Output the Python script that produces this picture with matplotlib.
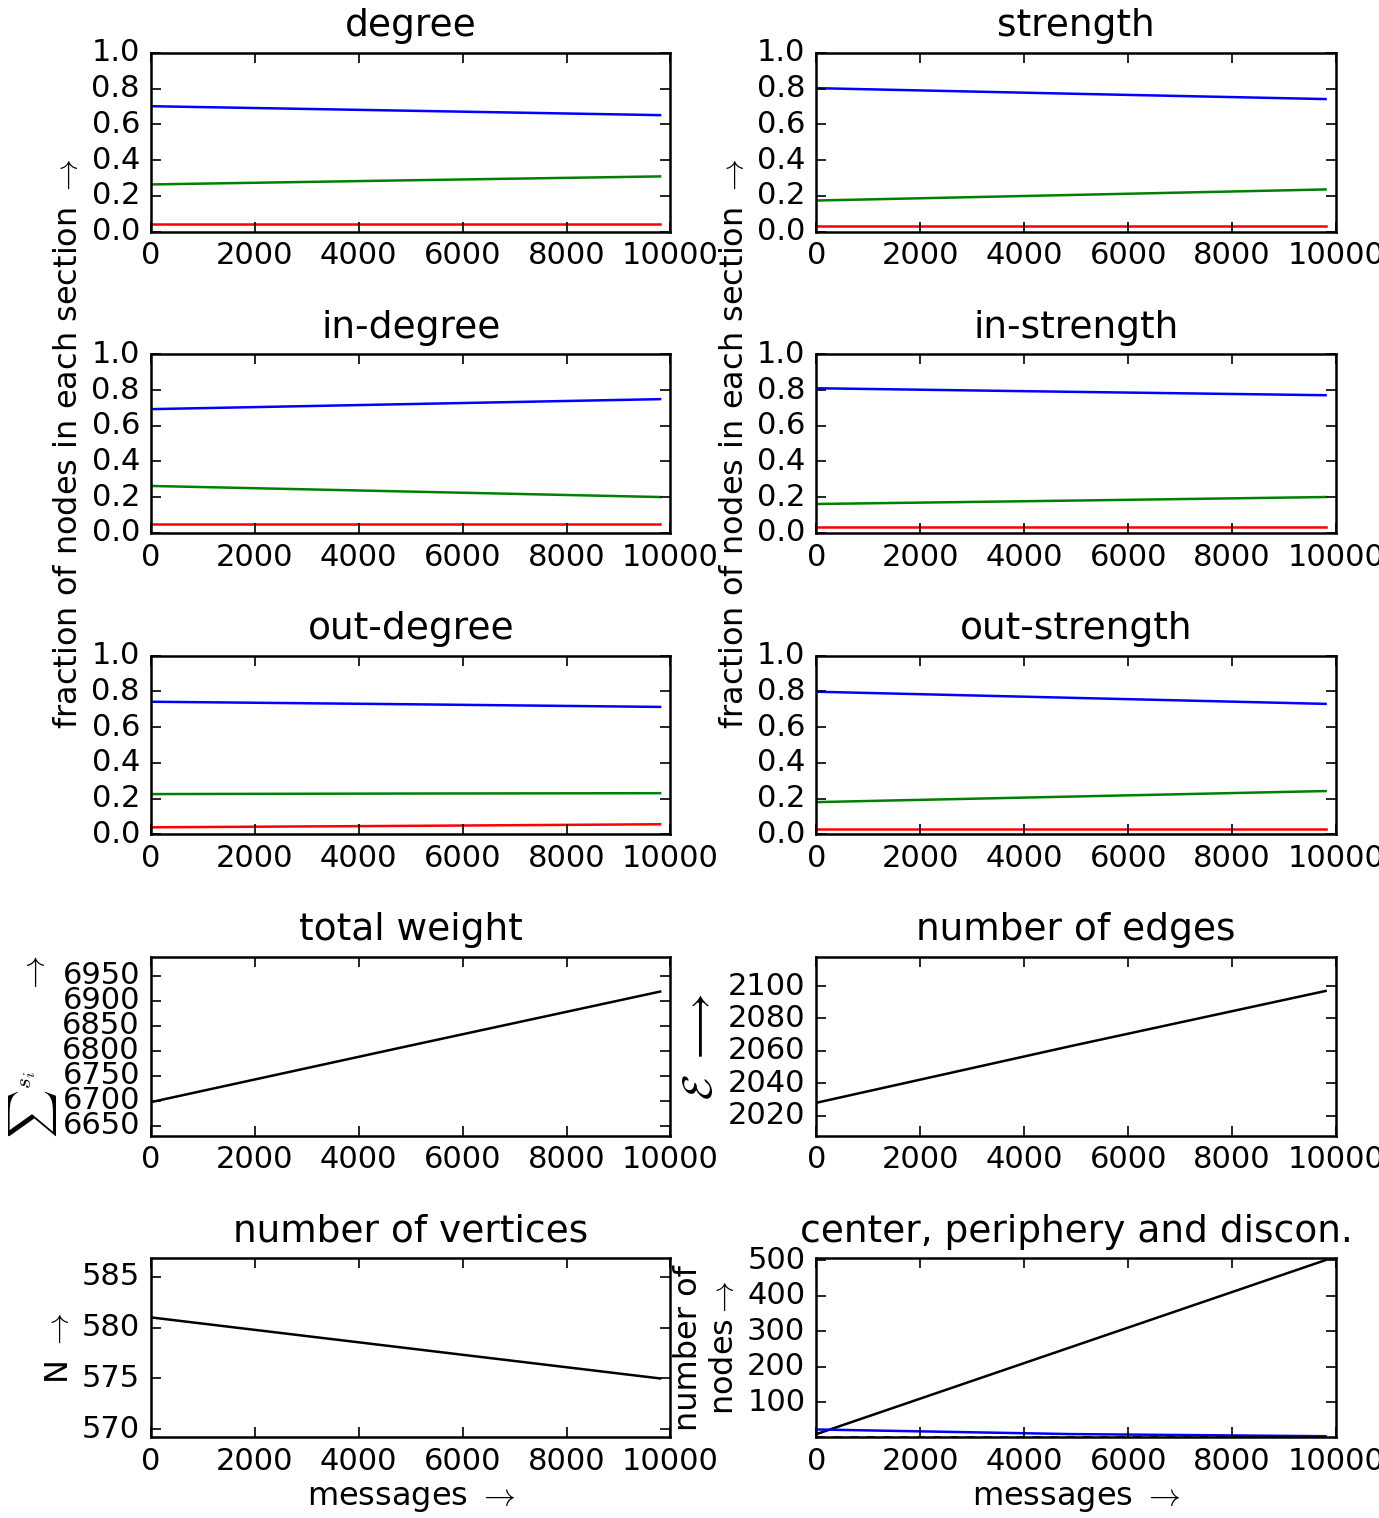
import numpy as np
import matplotlib
matplotlib.use('Agg')
from matplotlib import pyplot as plt

# messages axis (x) shared by every panel
messages = [0, 4900, 9800]

# fraction of nodes in center / periphery / disconnected, per measure
degree_blue = [0.702, 0.677, 0.652]
degree_green = [0.264, 0.287, 0.309]
degree_red = [0.045, 0.045, 0.045]

strength_blue = [0.803, 0.772, 0.742]
strength_green = [0.174, 0.205, 0.236]
strength_red = [0.034, 0.034, 0.034]

indegree_blue = [0.693, 0.721, 0.749]
indegree_green = [0.263, 0.232, 0.201]
indegree_red = [0.050, 0.050, 0.050]

instrength_blue = [0.810, 0.790, 0.771]
instrength_green = [0.162, 0.181, 0.201]
instrength_red = [0.034, 0.034, 0.034]

outdegree_blue = [0.742, 0.728, 0.713]
outdegree_green = [0.225, 0.228, 0.230]
outdegree_red = [0.039, 0.047, 0.056]

outstrength_blue = [0.798, 0.764, 0.730]
outstrength_green = [0.180, 0.211, 0.242]
outstrength_red = [0.028, 0.028, 0.028]

# totals
total_weight = [6697, 6808, 6918]
n_edges = [2028, 2063, 2097]
n_vertices = [581.0, 578.0, 575.0]

# center, periphery and disconnected counts
periphery = [10, 255, 500]
center = [23, 10, 4]
discon = [2, 2, 2]

plt.style.use('classic')
plt.rcParams['figure.facecolor'] = 'white'
plt.rcParams['savefig.facecolor'] = 'white'
plt.rcParams['font.size'] = 22
plt.rcParams['axes.labelsize'] = 23
plt.rcParams['axes.titlesize'] = 27
plt.rcParams['axes.titlepad'] = 12
plt.rcParams['axes.linewidth'] = 1.8
plt.rcParams['lines.linewidth'] = 1.8
plt.rcParams['xtick.major.size'] = 7
plt.rcParams['ytick.major.size'] = 7
plt.rcParams['xtick.major.width'] = 1.2
plt.rcParams['ytick.major.width'] = 1.2
plt.rcParams['xtick.major.pad'] = 7
plt.rcParams['ytick.major.pad'] = 8

fig, axes = plt.subplots(5, 2, figsize=(13.79, 15.18), dpi=100)
fig.subplots_adjust(left=0.1095, right=0.9688, top=0.9651, bottom=0.0534,
                    wspace=0.281, hspace=0.687)

fractions = [
    ('degree', degree_blue, degree_green, degree_red),
    ('strength', strength_blue, strength_green, strength_red),
    ('in-degree', indegree_blue, indegree_green, indegree_red),
    ('in-strength', instrength_blue, instrength_green, instrength_red),
    ('out-degree', outdegree_blue, outdegree_green, outdegree_red),
    ('out-strength', outstrength_blue, outstrength_green, outstrength_red),
]

for i, (name, b, g, r) in enumerate(fractions):
    ax = axes[i // 2][i % 2]
    ax.plot(messages, b, 'b')
    ax.plot(messages, g, 'g')
    ax.plot(messages, r, 'r')
    ax.set_ylim(0, 1)
    ax.set_xlim(0, 10000)
    ax.set_title(name)
    if i // 2 == 1:
        ax.set_ylabel(r'fraction of nodes in each section $\rightarrow$')


def totals_plot(ax, values, title, label, size=None):
    ax.plot(messages, values, 'k')
    ax.set_ylim(0.99 * min(values), 1.01 * max(values))
    ax.set_xlim(0, 10000)
    ax.set_title(title)
    if size:
        ax.set_ylabel(label, fontsize=size)
    else:
        ax.set_ylabel(label)


totals_plot(axes[3][0], total_weight, 'total weight',
            r'${\sum}^{s_i}$       $\rightarrow$', 24)
axes[3][0].yaxis.labelpad = 2
axes[3][0].set_yticks([6650, 6700, 6750, 6800, 6850, 6900, 6950])
totals_plot(axes[3][1], n_edges, 'number of edges', r'$\mathcal{E}\ \longrightarrow$', 30)
totals_plot(axes[4][0], n_vertices, 'number of vertices', r'N $\rightarrow$')
axes[4][0].set_xlabel(r'messages $\rightarrow$')

ax = axes[4][1]
ax.plot(messages, periphery, 'k')
ax.plot(messages, center, 'b')
ax.plot(messages, discon, 'k--')
ax.set_ylim(0.99 * min(discon), 1.01 * max(periphery))
ax.set_xlim(0, 10000)
ax.set_yticks([100, 200, 300, 400, 500])
ax.set_title('center, periphery and discon.')
ax.set_ylabel('number of\nnodes' + r'$\rightarrow$')
ax.set_xlabel(r'messages $\rightarrow$')

plt.savefig('out.png', dpi=100)
